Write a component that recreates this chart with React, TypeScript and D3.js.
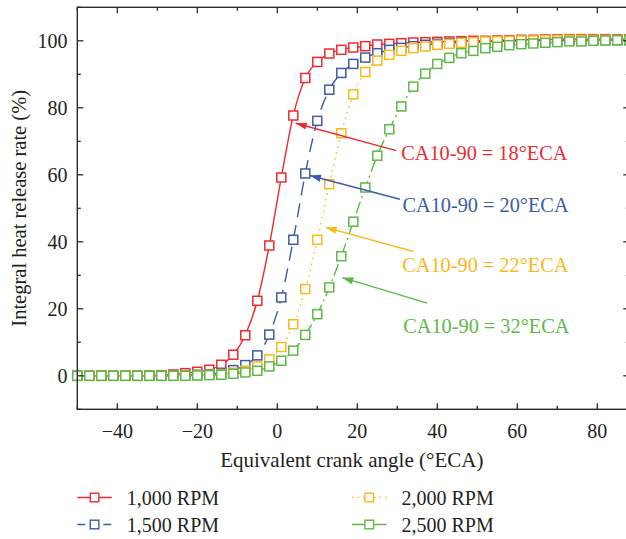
import React from "react";
import * as d3 from "d3";

const W = 626;
const H = 539;

const angles = [
  -50, -47, -44, -41, -38, -35, -32, -29, -26, -23, -20, -17, -14, -11, -8, -5, -2, 1, 4, 7, 10, 13, 16, 19, 22, 25,
  28, 31, 34, 37, 40, 43, 46, 49, 52, 55, 58, 61, 64, 67, 70, 73, 76, 79, 82, 85, 88,
];

const rpm1000 = [
  0, 0, 0, 0, 0, 0, 0.1, 0.2, 0.4, 0.8, 1.2, 1.8, 3.3, 6.3, 12.1, 22.4, 38.9, 59.2, 77.7, 88.9, 93.7, 96.2, 97.3, 98.0,
  98.4, 98.9, 99.1, 99.3, 99.5, 99.6, 99.7, 99.8, 99.9, 100.0, 100.0, 100.1, 100.2, 100.3, 100.3, 100.4, 100.4, 100.5,
  100.5, 100.5, 100.5, 100.5, 100.5,
];
const rpm1500 = [
  0, 0, 0, 0, 0, 0, 0, 0, 0.1, 0.2, 0.3, 0.5, 0.9, 1.7, 3.2, 6.1, 12.3, 23.4, 40.6, 60.4, 76.1, 85.4, 90.4, 93.1, 95.0,
  96.3, 97.3, 97.9, 98.4, 98.8, 99.1, 99.3, 99.5, 99.6, 99.7, 99.8, 99.9, 100.0, 100.0, 100.1, 100.1, 100.2, 100.2,
  100.2, 100.2, 100.2, 100.2,
];
const rpm2000 = [
  0, 0, 0, 0, 0, 0, 0, 0, 0, 0.1, 0.2, 0.3, 0.5, 0.9, 1.5, 2.8, 4.9, 8.6, 15.4, 25.9, 40.6, 57.2, 72.4, 84.0, 90.7, 94.1,
  95.8, 97.0, 97.8, 98.3, 98.8, 99.1, 99.4, 99.6, 99.8, 99.9, 100.0, 100.1, 100.1, 100.2, 100.2, 100.3, 100.3, 100.3,
  100.3, 100.3, 100.3,
];
const rpm2500 = [
  0, 0, 0, 0, 0, 0, 0, 0, 0, 0, 0.1, 0.2, 0.3, 0.6, 1.0, 1.5, 2.8, 4.5, 7.5, 12.2, 18.4, 26.4, 35.7, 46.0, 56.2, 65.7,
  73.6, 80.4, 86.3, 90.2, 93.1, 94.9, 96.3, 97.0, 97.8, 98.2, 98.7, 99.0, 99.2, 99.4, 99.6, 99.8, 99.8, 100.0, 100.1,
  100.2, 100.2,
];

const seriesNames = ["1,000 RPM", "1,500 RPM", "2,000 RPM", "2,500 RPM"];
const seriesValues = [rpm1000, rpm1500, rpm2000, rpm2500];
const seriesColors = ["#ED2B2F", "#3C5BA8", "#FDB718", "#5DB947"];
const seriesDash = ["none", "14,8", "1.5,4.5", "12,4,2,4"];

const annotationTexts = ["CA10-90 = 18°ECA", "CA10-90 = 20°ECA", "CA10-90 = 22°ECA", "CA10-90 = 32°ECA"];
// arrow tip / tail / label anchor in data units
const arrowTips = [[4.6, 75.4], [8.15, 59.8], [12.1, 44.3], [16.25, 29.3]];
const arrowTails = [[29.75, 67.2], [30.65, 52.7], [34, 37.1], [37.5, 21.7]];
const labelAnchors = [[31, 64.5], [31.3, 48.8], [31.25, 31.1], [31.5, 12.7]];

const xMajorTicks = [-40, -20, 0, 20, 40, 60, 80];
const xMinorTicks = [-50, -30, -10, 10, 30, 50, 70];
const yMajorTicks = [0, 20, 40, 60, 80, 100];
const yMinorTicks = [-10, 10, 30, 50, 70, 90, 110];

const FONT = "'Liberation Serif', 'Times New Roman', serif";
const AXIS = "#2b2b2b";
const TEXT = "#231f20";

export default function App() {
  const x = d3.scaleLinear().domain([-50, 88]).range([77.3, 629.3]);
  const y = d3.scaleLinear().domain([-10, 110]).range([409.3, 7.3]);
  const [x0, x1] = x.range();
  const [yb, yt] = y.range();

  const line = d3
    .line<number>()
    .x((_, i) => x(angles[i]))
    .y((v) => y(v))
    .curve(d3.curveMonotoneX);

  const MS = 9;
  const fmt = (v: number) => (v < 0 ? "\u2212" + Math.abs(v) : String(v));

  const arrowHead = (tx: number, ty: number, sx: number, sy: number) => {
    const ang = Math.atan2(ty - sy, tx - sx);
    const len = 11;
    const hw = 3.6;
    const bx = tx - len * Math.cos(ang);
    const by = ty - len * Math.sin(ang);
    const px = -Math.sin(ang) * hw;
    const py = Math.cos(ang) * hw;
    return `M${tx},${ty}L${bx + px},${by + py}L${bx - px},${by - py}Z`;
  };

  const legendPos = [
    [77.3, 497.5],
    [77.3, 524.5],
    [352, 497.5],
    [352, 524.5],
  ];

  return (
    <svg
      width={W}
      height={H}
      style={{ position: "absolute", left: 0, top: 0, display: "block", background: "#fff" }}
      fontFamily={FONT}
    >
      <defs>
        <clipPath id="plotclip">
          <rect x={0} y={yt} width={W} height={yb - yt} />
        </clipPath>
      </defs>

      {/* series */}
      <g clipPath="url(#plotclip)">
        {seriesValues.map((vals, si) => (
          <g key={si}>
            <path
              d={line(vals) || ""}
              fill="none"
              stroke={seriesColors[si]}
              strokeWidth={1.4}
              strokeDasharray={seriesDash[si]}
            />
            {vals.map((v, i) => (
              <rect
                key={i}
                x={x(angles[i]) - MS / 2}
                y={y(v) - MS / 2}
                width={MS}
                height={MS}
                fill="#fff"
                stroke={seriesColors[si]}
                strokeWidth={1.5}
              />
            ))}
          </g>
        ))}
      </g>

      {/* annotations */}
      {annotationTexts.map((t, i) => {
        const tx = x(arrowTips[i][0]);
        const ty = y(arrowTips[i][1]);
        const sx = x(arrowTails[i][0]);
        const sy = y(arrowTails[i][1]);
        return (
          <g key={i}>
            <line x1={sx} y1={sy} x2={tx} y2={ty} stroke={seriesColors[i]} strokeWidth={1.4} />
            <path d={arrowHead(tx, ty, sx, sy)} fill={seriesColors[i]} />
            <text x={x(labelAnchors[i][0])} y={y(labelAnchors[i][1])} fontSize={20.3} fill={seriesColors[i]}>
              {t}
            </text>
          </g>
        );
      })}

      {/* frame */}
      <rect x={x0} y={yt} width={x1 - x0} height={yb - yt} fill="none" stroke={AXIS} strokeWidth={1.4} />

      {/* x ticks */}
      {xMajorTicks.map((t) => (
        <g key={"xm" + t}>
          <line x1={x(t)} x2={x(t)} y1={yb} y2={yb - 6} stroke={AXIS} strokeWidth={1.3} />
          <line x1={x(t)} x2={x(t)} y1={yt} y2={yt + 6} stroke={AXIS} strokeWidth={1.3} />
          <text x={x(t)} y={438} textAnchor="middle" fontSize={20} fill={TEXT}>
            {fmt(t)}
          </text>
        </g>
      ))}
      {xMinorTicks.map((t) => (
        <g key={"xn" + t}>
          <line x1={x(t)} x2={x(t)} y1={yb} y2={yb - 3.5} stroke={AXIS} strokeWidth={1.3} />
          <line x1={x(t)} x2={x(t)} y1={yt} y2={yt + 3.5} stroke={AXIS} strokeWidth={1.3} />
        </g>
      ))}

      {/* y ticks */}
      {yMajorTicks.map((t) => (
        <g key={"ym" + t}>
          <line x1={x0} x2={x0 + 6} y1={y(t)} y2={y(t)} stroke={AXIS} strokeWidth={1.3} />
          <line x1={x1} x2={x1 - 6} y1={y(t)} y2={y(t)} stroke={AXIS} strokeWidth={1.3} />
          <text x={67.5} y={y(t)} dy="0.35em" textAnchor="end" fontSize={20} fill={TEXT}>
            {fmt(t)}
          </text>
        </g>
      ))}
      {yMinorTicks.map((t) => (
        <g key={"yn" + t}>
          <line x1={x0} x2={x0 + 3.5} y1={y(t)} y2={y(t)} stroke={AXIS} strokeWidth={1.3} />
          <line x1={x1} x2={x1 - 3.5} y1={y(t)} y2={y(t)} stroke={AXIS} strokeWidth={1.3} />
        </g>
      ))}

      {/* axis titles */}
      <text x={(x0 + x1) / 2 - 1.5} y={467} textAnchor="middle" fontSize={21} fill={TEXT}>
        Equivalent crank angle (°ECA)
      </text>
      <text
        transform={`translate(25.5,${(yt + yb) / 2}) rotate(-90)`}
        textAnchor="middle"
        fontSize={20.5}
        fill={TEXT}
      >
        Integral heat release rate (%)
      </text>

      {/* legend */}
      {seriesNames.map((n, i) => {
        const [lx, ly] = legendPos[i];
        return (
          <g key={n}>
            <line
              x1={lx}
              x2={lx + 34.5}
              y1={ly}
              y2={ly}
              stroke={seriesColors[i]}
              strokeWidth={1.4}
              strokeDasharray={i === 1 ? "8,5" : i === 2 ? "1.5,4" : "none"}
            />
            <rect x={lx + 17.25 - 4.3} y={ly - 4.3} width={8.6} height={8.6} fill="#fff" stroke={seriesColors[i]} strokeWidth={1.4} />
            <text x={lx + 49.5} y={ly} dy="0.35em" fontSize={20} fill={TEXT}>
              {n}
            </text>
          </g>
        );
      })}
    </svg>
  );
}
